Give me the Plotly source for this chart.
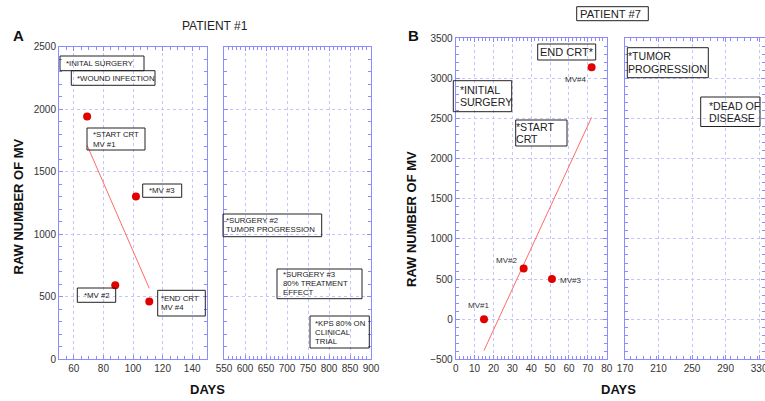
import plotly.graph_objects as go

W, H = 765, 401

# ---------------- data ----------------
# Patient #1 (panel A)
a_days = [69, 88, 102, 111]
a_mv = [1940, 590, 1300, 460]
a_fit_days = [69, 111]
a_fit_mv = [1710, 565]

# Patient #7 (panel B)
b_days = [15, 36, 51, 72]
b_mv = [0, 630, 500, 3140]
b_labels = ["MV#1", "MV#2", "MV#3", "MV#4"]
b_fit_days = [15, 72]
b_fit_mv = [-390, 2515]

a_left_range = [50, 150]
a_right_range = [550, 900]
b_left_range = [0, 80]
b_right_range = [170, 337]
a_y_range = [0, 2500]
b_y_range = [-500, 3500]

FONT = "Liberation Sans, Arial, sans-serif"
AX_COL = "#8c8cff"
GRID_COL = "#c4c4ff"
RED = "#e00000"
TXT = "#222222"


def px(x):
    return x / W


def py(y):
    return 1 - y / H


fig = go.Figure()

# panel A points and fit
fig.add_trace(go.Scatter(x=a_fit_days, y=a_fit_mv, mode="lines",
                         line=dict(color="#ff6a6a", width=1), xaxis="x", yaxis="y",
                         showlegend=False))
fig.add_trace(go.Scatter(x=a_days, y=a_mv, mode="markers",
                         marker=dict(color=RED, size=8), xaxis="x", yaxis="y",
                         showlegend=False))
fig.add_trace(go.Scatter(x=[], y=[], xaxis="x2", yaxis="y2", showlegend=False))

# panel B
fig.add_trace(go.Scatter(x=b_fit_days, y=b_fit_mv, mode="lines",
                         line=dict(color="#ff6a6a", width=1), xaxis="x3", yaxis="y3",
                         showlegend=False))
fig.add_trace(go.Scatter(x=b_days, y=b_mv, mode="markers",
                         marker=dict(color=RED, size=8), xaxis="x3", yaxis="y3",
                         showlegend=False))
fig.add_trace(go.Scatter(x=[], y=[], xaxis="x4", yaxis="y4", showlegend=False))


def xax(domain, rng, dtick, minor, anchor, tick0=None):
    d = dict(domain=domain, range=rng, dtick=dtick, anchor=anchor, automargin=False,
             showline=True, linecolor=AX_COL, linewidth=1, mirror="ticks",
             ticks="inside", ticklen=4, tickcolor=AX_COL,
             showgrid=True, gridcolor=GRID_COL, griddash="dot", gridwidth=1,
             zeroline=False, ticklabeloverflow="allow",
             tickfont=dict(family=FONT, size=10, color="#333333"),
             minor=dict(dtick=minor, ticks="inside", ticklen=3, tickcolor=AX_COL,
                        showgrid=False))
    if tick0 is not None:
        d["tick0"] = tick0
    return d


def yax(domain, rng, anchor, labels=True):
    return dict(domain=domain, range=rng, dtick=500, anchor=anchor, automargin=False,
                showline=True, linecolor=AX_COL, linewidth=1, mirror="ticks",
                ticks="inside", ticklen=4, tickcolor=AX_COL,
                showgrid=True, gridcolor=GRID_COL, griddash="dot", gridwidth=1,
                zeroline=False, showticklabels=labels,
                tickfont=dict(family=FONT, size=10, color="#333333"),
                minor=dict(dtick=100, ticks="inside", ticklen=3, tickcolor=AX_COL,
                           showgrid=False))


ya_dom = [py(359), py(46.5)]
yb_dom = [py(359.3), py(38.3)]

fig.update_layout(
    width=W, height=H,
    margin=dict(l=0, r=0, t=0, b=0, autoexpand=False),
    paper_bgcolor="white", plot_bgcolor="white",
    font=dict(family=FONT, color=TXT),
    xaxis=xax([px(59), px(207)], a_left_range, 20, 5, "y"),
    yaxis=yax(ya_dom, a_y_range, "x"),
    xaxis2=xax([px(224), px(371)], a_right_range, 50, 10, "y2"),
    yaxis2=yax(ya_dom, a_y_range, "x2", labels=False),
    xaxis3=xax([px(455.7), px(606.7)], b_left_range, 10, 2, "y3"),
    yaxis3=yax(yb_dom, b_y_range, "x3"),
    xaxis4=xax([px(625), 1.0], b_right_range, 40, 8, "y4", tick0=170),
    yaxis4=yax(yb_dom, b_y_range, "x4", labels=False),
)

ann = []
shapes = []


def box(lines, x0, y0, x1, y1, size, pad, spacing):
    shapes.append(dict(type="rect", xref="paper", yref="paper",
                       x0=px(x0), x1=px(x1), y0=py(y0), y1=py(y1),
                       line=dict(color="#222222", width=1), fillcolor="rgba(0,0,0,0)"))
    n = len(lines)
    yc = (y0 + y1) / 2
    for i, t in enumerate(lines):
        ly = yc + (i - (n - 1) / 2) * spacing
        ann.append(dict(text=t, xref="paper", yref="paper",
                        x=px(x0 + pad), y=py(ly), xanchor="left", yanchor="middle",
                        showarrow=False, borderpad=0, borderwidth=0,
                        font=dict(family=FONT, size=size, color=TXT)))


def label(text, x, y, size, bold=False, angle=0, color=TXT):
    ann.append(dict(text=f"<b>{text}</b>" if bold else text,
                    xref="paper", yref="paper", x=px(x), y=py(y),
                    xanchor="center", yanchor="middle", showarrow=False,
                    textangle=angle,
                    font=dict(family=FONT, size=size, color=color)))


SA = 7.8
# panel A boxes
box(["*INITAL SURGERY"], 60, 56, 144, 70.7, SA, 6, 9)
box(["*WOUND INFECTION"], 71.3, 70.7, 155, 85.3, SA, 5.5, 9)
box(["*START CRT", "MV #1"], 87, 128, 145, 150, SA, 5.5, 10)
box(["*MV #3"], 142.7, 184, 181.7, 197.3, SA, 6, 9)
box(["*SURGERY #2", "TUMOR PROGRESSION"], 223, 214, 321.7, 236.7, SA, 3, 9)
box(["*SURGERY #3", "80% TREATMENT", "EFFECT"], 277, 269, 362, 298.7, SA, 5.5, 9)
box(["*MV #2"], 77.3, 288, 115.7, 302.3, SA, 6.5, 9)
box(["*END CRT", "MV #4"], 157.7, 290.3, 205.3, 316, SA, 3.5, 9.4)
box(["*KPS 80% ON", "CLINICAL", "TRIAL"], 310, 316, 369.3, 348, SA, 5, 9)

SB = 10.6
# panel B boxes
box(["*INITIAL", "SURGERY"], 453.3, 80.7, 511.7, 111.7, SB, 6.5, 12)
box(["*START", "CRT"], 515.7, 120, 567, 146, SB, 0.5, 12)
box(["END CRT*"], 537.7, 44, 595.7, 60, 11, 2.5, 12)
box(["*TUMOR", "PROGRESSION"], 627.3, 47.7, 708.3, 77.7, SB, 1, 12.4)
box(["*DEAD OF", "DISEASE"], 700.7, 97, 760, 126.5, SB, 8, 12)

# point labels in B
for t, (lx, ly) in zip(b_labels, [(478, 305.7), (506.7, 260), (570, 280.7), (575, 79)]):
    label(t, lx, ly, 8, color="#333333")

# titles
label("PATIENT #1", 215, 26, 12)
box(["PATIENT #7"], 576.7, 6.7, 648.3, 20.7, 11.2, 3.5, 12)
label("A", 18.7, 35, 15, bold=True, color="#111111")
label("B", 413, 35, 15, bold=True, color="#111111")
label("RAW NUMBER OF MV", 18, 206.5, 13, bold=True, angle=-90, color="#111111")
label("RAW NUMBER OF MV", 412, 219, 13, bold=True, angle=-90, color="#111111")
label("DAYS", 207, 389, 13, bold=True, color="#111111")
label("DAYS", 618, 389, 13, bold=True, color="#111111")

fig.update_layout(annotations=ann, shapes=shapes)

fig.write_html("out.html")
